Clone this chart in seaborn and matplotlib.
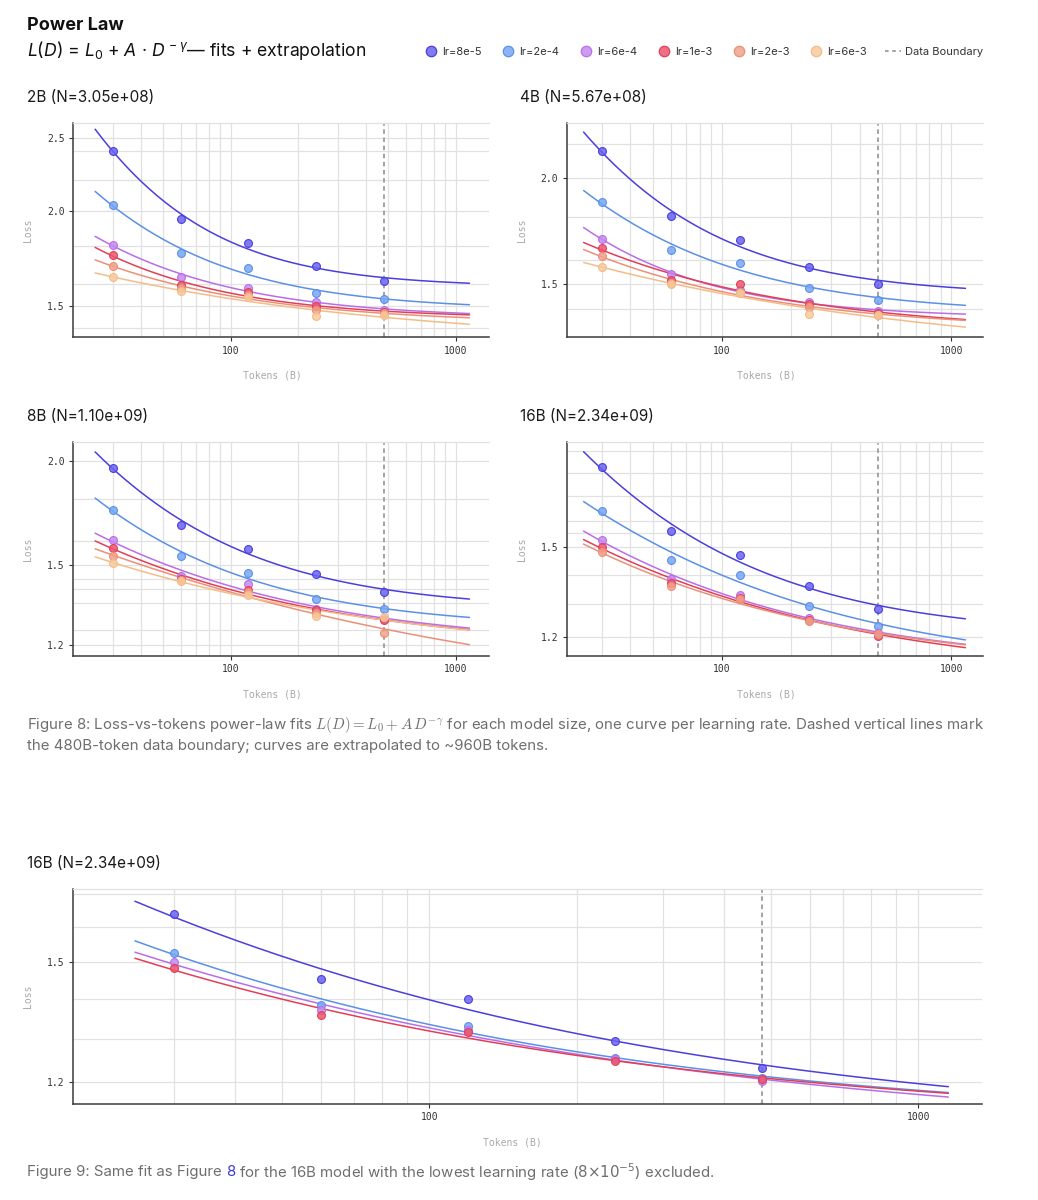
import numpy as np
import pandas as pd
import seaborn as sns
import matplotlib.pyplot as plt
from matplotlib.colors import to_rgba
from matplotlib.lines import Line2D
from matplotlib.ticker import NullFormatter

# ---- data --------------------------------------------------------------
tokens = [30, 60, 120, 240, 480]
lrs = ['8e-5', '2e-4', '6e-4', '1e-3', '2e-3', '6e-3']

# one row per learning rate (same order as lrs)
loss_2b = [
    [2.407, 1.955, 1.815, 1.691, 1.615],
    [2.037, 1.763, 1.681, 1.560, 1.530],
    [1.804, 1.635, 1.585, 1.516, 1.479],
    [1.749, 1.597, 1.565, 1.497, 1.470],
    [1.694, 1.581, 1.549, 1.482, 1.466],
    [1.636, 1.568, 1.540, 1.452, 1.459],
]
loss_4b = [
    [2.157, 1.804, 1.690, 1.570, 1.500],
    [1.873, 1.646, 1.586, 1.484, 1.436],
    [1.696, 1.539, 1.474, 1.425, 1.391],
    [1.652, 1.515, 1.499, 1.417, 1.383],
    [1.618, 1.504, 1.467, 1.408, 1.377],
    [1.568, 1.499, 1.463, 1.380, 1.376],
]
loss_8b = [
    [1.963, 1.673, 1.568, 1.461, 1.389],
    [1.744, 1.536, 1.467, 1.363, 1.326],
    [1.604, 1.452, 1.423, 1.325, 1.291],
    [1.571, 1.443, 1.399, 1.321, 1.285],
    [1.538, 1.439, 1.389, 1.311, 1.242],
    [1.505, 1.435, 1.380, 1.299, 1.297],
]
loss_16b = [
    [1.826, 1.559, 1.469, 1.362, 1.284],
    [1.638, 1.452, 1.400, 1.295, 1.233],
    [1.525, 1.384, 1.332, 1.256, 1.210],
    [1.498, 1.372, 1.322, 1.252, 1.203],
    [1.482, 1.360, 1.318, 1.248, 1.207],
]

panels = ['2B (N=3.05e+08)', '4B (N=5.67e+08)', '8B (N=1.10e+09)', '16B (N=2.34e+09)']
boundary = 480
fit_range = (25, 1152)
l0_floor = 1.0

fill_colors = ['#6a63f2', '#79a7f6', '#c68af2', '#ec5770', '#f2a28a', '#f8cb9c']
line_colors = ['#4b3fdc', '#5b90e6', '#b86ee9', '#e23e57', '#ec8f77', '#f4bc88']


def fit_power_law(d, y):
    # L(D) = L0 + A * D^-g, least squares over g, with L0 kept >= l0_floor
    d = np.asarray(d, float)
    y = np.asarray(y, float)
    best = None
    for g in np.linspace(0.02, 3.0, 1500):
        x = d ** -g
        X = np.column_stack([np.ones_like(d), x])
        l0, a = np.linalg.lstsq(X, y, rcond=None)[0]
        if l0 < l0_floor:
            l0 = l0_floor
            a = (x @ (y - l0)) / (x @ x)
        sse = ((l0 + a * x - y) ** 2).sum()
        if best is None or sse < best[0]:
            best = (sse, l0, a, g)
    return best[1:]


def make_frames(rows, names):
    pts, curves = [], []
    dd = np.geomspace(*fit_range, 200)
    for name, ys in zip(names, rows):
        for d, y in zip(tokens, ys):
            pts.append((name, d, y))
        l0, a, g = fit_power_law(tokens, ys)
        for d in dd:
            curves.append((name, d, l0 + a * d ** -g))
    cols = ['lr', 'tokens', 'loss']
    return pd.DataFrame(pts, columns=cols), pd.DataFrame(curves, columns=cols)


sns.set_theme(style='white')
plt.rcParams['font.family'] = ['Inter', 'DejaVu Sans']
plt.rcParams['mathtext.fontset'] = 'custom'
plt.rcParams['mathtext.rm'] = 'Inter'
plt.rcParams['mathtext.it'] = 'Inter:italic'
MONO = 'DejaVu Sans Mono'
GRID = '#e1e1e1'

fig = plt.figure(figsize=(10.38, 12), dpi=100)


def rect(l, t, r, b):
    return [l / 1038, 1 - b / 1200, (r - l) / 1038, (b - t) / 1200]


def draw_panel(ax, rows, names, fills, lines, xlim, ylim, ylabels, ygrid, lx):
    pts, curves = make_frames(rows, names)
    ax.set_xscale('log')
    ax.set_yscale('log')
    ax.axvline(boundary, color='#9c9c9c', ls=(0, (2.5, 2)), lw=1.3, zorder=1.5)
    sns.lineplot(data=curves, x='tokens', y='loss', hue='lr', hue_order=names,
                 palette=dict(zip(names, lines)), estimator=None, sort=False,
                 linewidth=1.1, legend=False, ax=ax, zorder=2)
    for name, fc, ec in zip(names, fills, lines):
        sns.scatterplot(data=pts[pts['lr'] == name], x='tokens', y='loss',
                        color=to_rgba(fc, 0.85), edgecolor=ec, linewidth=0.8,
                        s=32, legend=False, ax=ax, zorder=3)
    ax.set_xlim(*xlim)
    ax.set_ylim(*ylim)
    ax.set_xticks([100, 1000], labels=['100', '1000'])
    ax.set_xticks([v * m for m in (10, 100) for v in range(3, 10)] + [200], minor=True)
    ax.set_yticks(ylabels, labels=[f'{v:.1f}' for v in ylabels])
    ax.set_yticks(ygrid, minor=True)
    ax.xaxis.set_minor_formatter(NullFormatter())
    ax.yaxis.set_minor_formatter(NullFormatter())
    ax.grid(True, which='both', color=GRID, lw=0.9, zorder=0)
    ax.set_axisbelow(True)
    ax.tick_params(which='major', length=3, width=0.8, color='#333333', pad=3,
                   labelsize=7, labelcolor='#333333', left=True, bottom=True)
    ax.tick_params(which='minor', length=0)
    for lab in ax.get_xticklabels() + ax.get_yticklabels():
        lab.set_family(MONO)
    for side in ('left', 'bottom'):
        ax.spines[side].set_color('#3a3a3a')
        ax.spines[side].set_linewidth(1.1)
    ax.spines['top'].set_color(GRID)
    ax.spines['top'].set_linewidth(0.9)
    ax.spines['right'].set_visible(False)
    ax.set_xlabel('Tokens (B)', family=MONO, fontsize=7, color='#a8a8a8')
    ax.set_ylabel('Loss', family=MONO, fontsize=7, color='#a8a8a8')
    ax.xaxis.set_label_coords(0.479, -0.157)
    ax.yaxis.set_label_coords(lx, 0.5)


specs = [
    (loss_2b, rect(73.3, 122.7, 489.3, 337.3), (20, 1411), (1.362, 2.62),
     [1.5, 2.0, 2.5], [1.4, 1.6, 1.8, 2.2, 2.4]),
    (loss_4b, rect(566.7, 122.7, 982.7, 337.3), (21.1, 1370), (1.295, 2.33),
     [1.5, 2.0], [1.4, 1.6, 1.8, 2.2]),
    (loss_8b, rect(73.3, 441.7, 489.3, 656), (20, 1411), (1.164, 2.109),
     [1.2, 1.5, 2.0], [1.25, 1.35, 1.4, 1.44, 1.6, 1.8]),
    (loss_16b, rect(566.7, 441.7, 982.7, 656), (21.1, 1370), (1.144, 1.946),
     [1.2, 1.5], [1.3, 1.4, 1.55, 1.6, 1.7, 1.8, 1.9]),
]
title_pos = [(27, 98), (520, 98), (27, 416.5), (520, 416.5)]

for (rows, r, xl, yl, ylab, ygr), title, (tx, ty) in zip(specs, panels, title_pos):
    ax = fig.add_axes(r)
    n = len(rows)
    draw_panel(ax, rows, lrs[:n], fill_colors[:n], line_colors[:n], xl, yl, ylab, ygr, -0.096)
    fig.text(tx / 1038, 1 - ty / 1200, title, fontsize=11, color='#1a1a1a', va='center')

# Figure 9: 16B without the lowest learning rate (colours restart from the first)
ax9 = fig.add_axes(rect(73.3, 889, 982.3, 1104))
draw_panel(ax9, loss_16b[1:], lrs[1:5], fill_colors[:4], line_colors[:4],
           (18.7, 1352), (1.153, 1.716), [1.2, 1.5], [1.3, 1.4, 1.6, 1.7], -0.044)
ax9.xaxis.set_label_coords(0.483, -0.157)
fig.text(27 / 1038, 1 - 864 / 1200, panels[3], fontsize=11, color='#1a1a1a', va='center')

# header
fig.text(27 / 1038, 1 - 25 / 1200, 'Power Law', fontsize=13, weight='bold',
         color='#111111', va='center')
fig.text(27 / 1038, 1 - 51 / 1200,
         r'$L(D)$ = $L_0$ + $A$ · $D^{\,-\gamma}$— fits + extrapolation',
         fontsize=12.7, color='#111111', va='center', math_fontfamily='custom')

handles = [Line2D([], [], marker='o', ls='', markersize=7.5,
                  markerfacecolor=to_rgba(fc, 0.85), markeredgecolor=ec, markeredgewidth=0.9)
           for fc, ec in zip(fill_colors, line_colors)]
handles.append(Line2D([], [], color='#9c9c9c', ls=(0, (2, 2)), lw=1.3))
labels = [f'lr={v}' for v in lrs] + ['Data Boundary']
fig.legend(handles, labels, ncol=7, loc='center right',
           bbox_to_anchor=(993 / 1038, 1 - 52 / 1200), frameon=False,
           fontsize=8, handletextpad=0.35, columnspacing=1.65, handlelength=1.4,
           labelcolor='#333333')

# captions
CAP = '#6e6e6e'
fig.text(27 / 1038, 1 - 725 / 1200,
         r'Figure 8: Loss-vs-tokens power-law fits $L(D) = L_0 + A\,D^{-\gamma}$ for each model size, '
         r'one curve per learning rate. Dashed vertical lines mark',
         fontsize=10.8, color=CAP, va='center', math_fontfamily='cm')
fig.text(27 / 1038, 1 - 746 / 1200,
         'the 480B-token data boundary; curves are extrapolated to ~960B tokens.',
         fontsize=10.8, color=CAP, va='center')

renderer = fig.canvas.get_renderer()
x0 = 27 / 1038
for part, col in [('Figure 9: Same fit as Figure ', CAP), ('8', '#3b3bd6'),
                  (r' for the 16B model with the lowest learning rate ($\mathrm{8{\times}10^{-5}}$) excluded.', CAP)]:
    t = fig.text(x0, 1 - 1172 / 1200, part, fontsize=10.8, color=col, va='center',
                 math_fontfamily='dejavusans')
    bb = t.get_window_extent(renderer=renderer)
    x0 += bb.width / fig.bbox.width

fig.savefig('out.png', dpi=100)
